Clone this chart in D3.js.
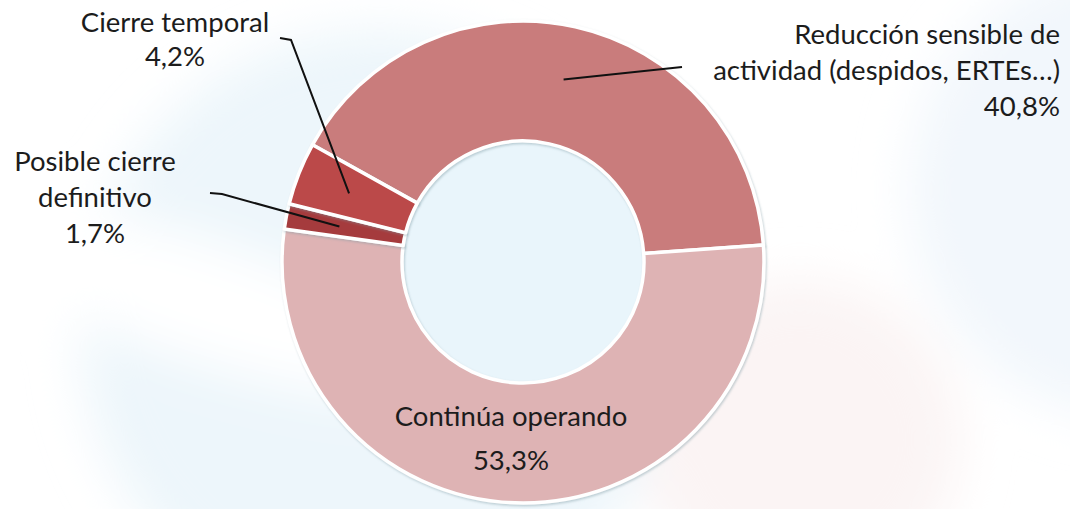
<!DOCTYPE html>
<html>
<head>
<meta charset="utf-8">
<script src="https://cdn.jsdelivr.net/npm/d3@7"></script>
<style>
  body { margin: 0; background: #fff; }
  svg { display: block; }
  text { font-family: Lato, "Open Sans", sans-serif; fill: #1c1c1c; }
</style>
</head>
<body>
<div id="chart"></div>
<script>
// estado de las empresas - donut
const categories = ["Reducción sensible de actividad (despidos, ERTEs…)", "Continúa operando", "Posible cierre definitivo", "Cierre temporal"];
const values = [40.8, 53.3, 1.7, 4.2];
const valueLabels = ["40,8%", "53,3%", "1,7%", "4,2%"];
const labelLines = [
  ["Reducción sensible de", "actividad (despidos, ERTEs…)"],
  ["Continúa operando"],
  ["Posible cierre", "definitivo"],
  ["Cierre temporal"]
];
const colors = ["#c97b7b", "#deb3b4", "#a53b3c", "#bb4849"];

document.addEventListener('DOMContentLoaded', function () {
  const width = 1070;
  const height = 509;
  const cx = 523, cy = 262;
  const outerR = 241, innerR = 121;

  const data = categories.map((c, i) => ({ name: c, value: values[i], lines: labelLines[i], pct: valueLabels[i] }));

  const svg = d3.select("#chart")
    .append("svg")
    .attr("width", width)
    .attr("height", height);

  const defs = svg.append("defs");
  defs.append("filter").attr("id", "blur")
    .attr("x", "-50%").attr("y", "-50%").attr("width", "200%").attr("height", "200%")
    .append("feGaussianBlur").attr("stdDeviation", 25);
  const sh = defs.append("filter").attr("id", "shadow")
    .attr("x", "-10%").attr("y", "-10%").attr("width", "120%").attr("height", "120%");
  sh.append("feDropShadow")
    .attr("dx", 1).attr("dy", 1.5).attr("stdDeviation", 1.2)
    .attr("flood-color", "#7d99a3").attr("flood-opacity", 0.45);

  // faint background shapes
  const bg = svg.append("g").attr("filter", "url(#blur)");
  bg.append("circle").attr("cx", 380).attr("cy", 330).attr("r", 300).attr("fill", "#edf6fb");
  bg.append("circle").attr("cx", 1140).attr("cy", 190).attr("r", 230).attr("fill", "#f2f7fc");
  bg.append("circle").attr("cx", 800).attr("cy", 440).attr("r", 160).attr("fill", "#fbf4f4");
  bg.append("ellipse").attr("cx", 200).attr("cy", 300).attr("rx", 260).attr("ry", 60)
    .attr("transform", "rotate(18,200,300)").attr("fill", "#ffffff");

  const g = svg.append("g")
    .attr("transform", `translate(${cx},${cy})`);

  // light blue centre
  g.append("circle").attr("r", innerR).attr("fill", "#e9f5fb");

  const pie = d3.pie()
    .sort(null)
    .value(d => d.value)
    .startAngle(-60.9 * Math.PI / 180)
    .endAngle(-60.9 * Math.PI / 180 + 2 * Math.PI);

  const arc = d3.arc()
    .innerRadius(innerR)
    .outerRadius(outerR);

  const pointArc = d3.arc()
    .innerRadius(187)
    .outerRadius(187);

  const arcs = pie(data);

  g.selectAll("path.slice")
    .data(arcs)
    .enter()
    .append("path")
    .attr("class", "slice")
    .attr("d", arc)
    .attr("fill", (d, i) => colors[i])
    .attr("stroke", "#fff")
    .attr("stroke-width", 3.5)
    .attr("stroke-linejoin", "round")
    .attr("filter", "url(#shadow)");

  // label placement (text anchor, line step, leader elbow points)
  const labelPos = [
    { x: 1060, y: 44, step: 36, anchor: "end", leader: [[682, 67]] },
    { x: 511, y: 426, step: 44, anchor: "middle", leader: null },
    { x: 95, y: 171, step: 36, anchor: "middle", leader: [[222, 194], [210, 193]] },
    { x: 175, y: 32, step: 34, anchor: "middle", leader: [[291, 40], [280, 38]] }
  ];

  arcs.forEach((d, i) => {
    const p = labelPos[i];
    if (p.leader) {
      const c = pointArc.centroid(d);
      const pts = [[c[0] + cx, c[1] + cy]].concat(p.leader);
      svg.append("path")
        .attr("d", d3.line()(pts))
        .attr("fill", "none")
        .attr("stroke", "#111")
        .attr("stroke-width", 2);
    }
    const t = svg.append("text")
      .attr("text-anchor", p.anchor)
      .attr("font-size", 27.5);
    d.data.lines.concat([d.data.pct]).forEach((ln, k) => {
      t.append("tspan")
        .attr("x", p.x)
        .attr("y", p.y + k * p.step)
        .text(ln);
    });
  });
});
</script>
</body>
</html>
